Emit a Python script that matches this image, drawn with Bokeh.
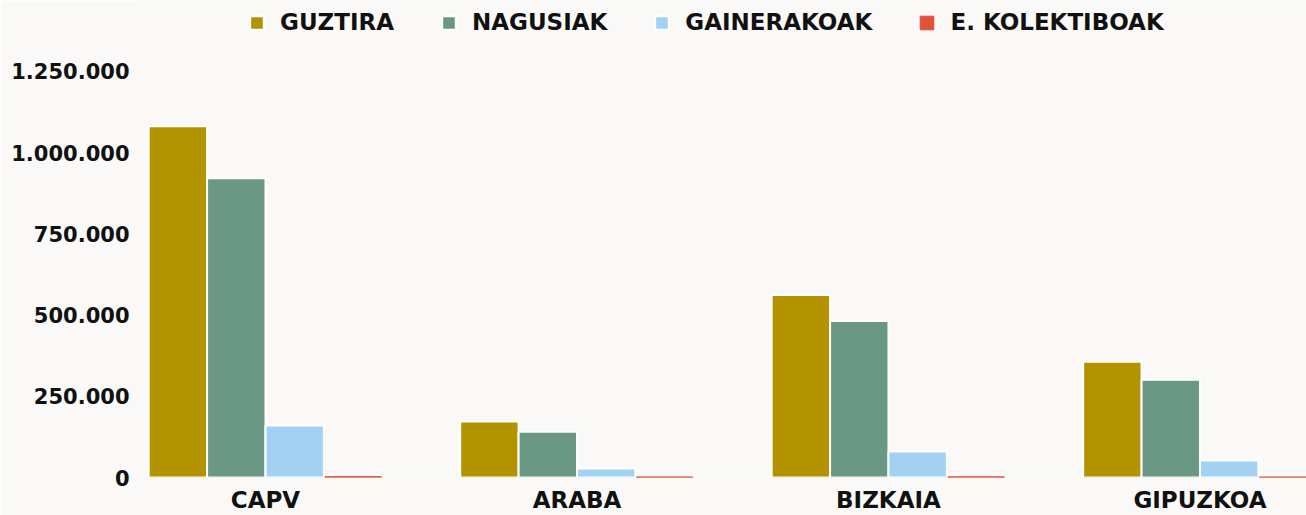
from bokeh.plotting import figure
from bokeh.models import ColumnDataSource, FixedTicker, Legend, LegendItem, Range1d
from bokeh.transform import dodge
from bokeh.embed import file_html
from bokeh.resources import INLINE

# ---- data ----
categories = ["CAPV", "ARABA", "BIZKAIA", "GIPUZKOA"]
series_names = ["GUZTIRA", "NAGUSIAK", "GAINERAKOAK", "E. KOLEKTIBOAK"]
guztira = [1081000, 172000, 562000, 356000]
nagusiak = [921000, 141000, 482000, 301000]
gainerakoak = [160000, 28000, 80000, 52000]
kolektiboak = [2600, 1800, 2200, 1600]
y_ticks = [0, 250000, 500000, 750000, 1000000, 1250000]
y_tick_labels = ["0", "250.000", "500.000", "750.000", "1.000.000", "1.250.000"]

colors = ["#b39400", "#6b9885", "#a3d1f2", "#e0523a"]
BG = "#faf9f7"
FONT = "DejaVu Sans"

source = ColumnDataSource(dict(
    x=list(range(len(categories))),
    guztira=guztira,
    nagusiak=nagusiak,
    gainerakoak=gainerakoak,
    kolektiboak=kolektiboak,
))

# frame spans window y=0..478; the 1.250.000 tick sits at y=71
Y_TOP = 1250000 * 478 / 407

p = figure(width=1306, height=515, output_backend="svg", toolbar_location=None,
           x_range=Range1d(-0.4045, 3.342), y_range=Range1d(0, Y_TOP),
           min_border_left=139, min_border_right=0, min_border_top=0,
           min_border_bottom=37)
p.background_fill_color = BG
p.border_fill_color = BG
p.outline_line_color = None
p.xgrid.grid_line_color = None
p.ygrid.grid_line_color = None

cols = ["guztira", "nagusiak", "gainerakoak", "kolektiboak"]
offsets = [-0.28125, -0.09375, 0.09375, 0.28125]
renderers = []
for col, off, c in zip(cols, offsets, colors):
    if col == "kolektiboak":
        r = p.vbar(x=dodge("x", off, range=p.x_range), top=col, bottom=0,
                   width=0.181, source=source, fill_color=c, line_color=c,
                   line_width=1)
    else:
        r = p.vbar(x=dodge("x", off, range=p.x_range), top=col, bottom=0,
                   width=0.1875, source=source, fill_color=c,
                   line_color="white", line_width=2)
    renderers.append(r)

legend = Legend(items=[LegendItem(label=n, renderers=[r]) for n, r in zip(series_names, renderers)],
                orientation="horizontal", location=(109, 442),
                background_fill_alpha=0, border_line_color=None,
                label_text_font=FONT, label_text_font_style="bold",
                label_text_font_size="23px", label_text_color="#111111",
                glyph_width=17, glyph_height=17, label_standoff=15,
                spacing=46, padding=0, margin=0)
p.add_layout(legend, "center")

p.xaxis.ticker = FixedTicker(ticks=list(range(len(categories))))
p.xaxis.major_label_overrides = {i: c for i, c in enumerate(categories)}
p.yaxis.ticker = FixedTicker(ticks=y_ticks)
p.yaxis.major_label_overrides = {t: l for t, l in zip(y_ticks, y_tick_labels)}

for ax in (p.xaxis, p.yaxis):
    ax.axis_line_color = None
    ax.major_tick_line_color = None
    ax.major_tick_out = 0
    ax.major_tick_in = 0
    ax.minor_tick_line_color = None
    ax.major_label_text_font = FONT
    ax.major_label_text_font_style = "bold"
    ax.major_label_text_color = "#111111"
p.xaxis.major_label_text_font_size = "23px"
p.yaxis.major_label_text_font_size = "21px"
p.xaxis.major_label_standoff = 9
p.yaxis.major_label_standoff = 10

open("out.html", "w").write(file_html(p, INLINE))
